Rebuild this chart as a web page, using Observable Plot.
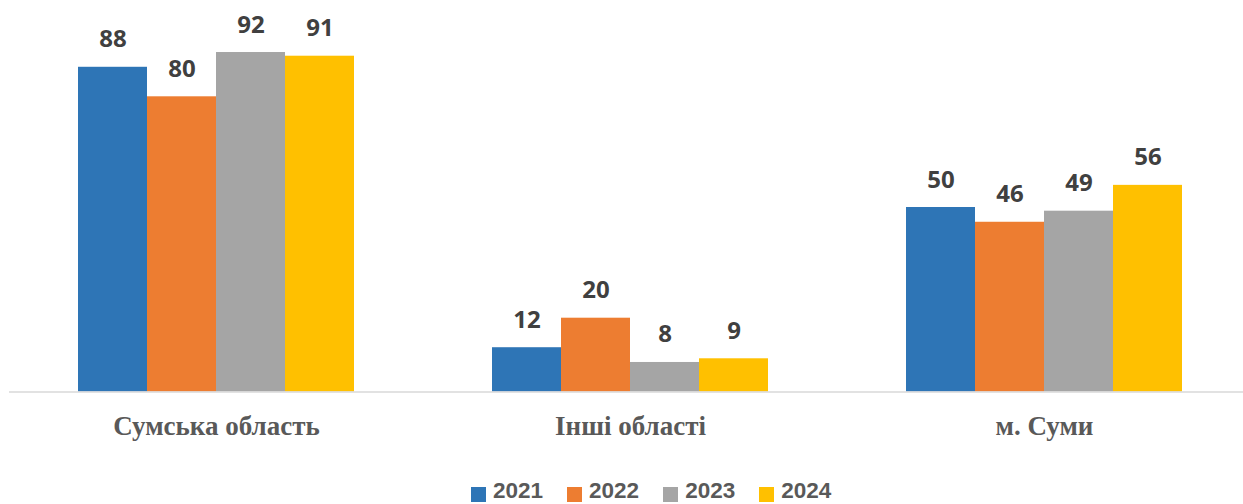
<!DOCTYPE html>
<html>
<head>
<meta charset="utf-8">
<script src="https://cdn.jsdelivr.net/npm/d3@7"></script>
<script src="https://cdn.jsdelivr.net/npm/@observablehq/plot@0.6"></script>
<style>
  html, body { margin: 0; padding: 0; background: #fff; overflow: hidden; width: 1243px; height: 504px; }
  #chart { position: absolute; left: 0; top: 0; width: 1252px; }
  #chart svg { max-width: none !important; }
  #chart svg g[aria-label="fx-axis tick label"] text { font-family: "Liberation Serif", "Times New Roman", serif; font-weight: 700; }
  #legend { position: absolute; left: 471px; top: 481px; height: 22px; display: flex; align-items: flex-start;
            font-family: "Liberation Sans", Arial, sans-serif; font-weight: 700; font-size: 22.5px; color: #595959; }
  .item { display: flex; align-items: flex-start; margin-right: 24px; height: 22px; }
  .sw { width: 15px; height: 15px; margin-right: 7px; margin-top: 5.5px; }
  .lbl { display: block; height: 20px; line-height: 20px; overflow: visible; }
</style>
</head>
<body>
<div id="chart"></div>
<div id="legend"></div>
<script>
const categories = ["Сумська область", "Інші області", "м. Суми"];
const years = ["2021", "2022", "2023", "2024"];
const values2021 = [88, 12, 50];
const values2022 = [80, 20, 46];
const values2023 = [92, 8, 49];
const values2024 = [91, 9, 56];
const colors = ["#2E75B6", "#ED7D31", "#A5A5A5", "#FFC000"];

const series = [values2021, values2022, values2023, values2024];
const data = [];
categories.forEach((c, i) => years.forEach((y, j) => data.push({cat: c, year: y, value: series[j][i]})));

const chart = Plot.plot({
  width: 1252,
  height: 460,
  marginLeft: 9,
  marginRight: 0.5,
  marginTop: 22.5,
  marginBottom: 68.5,
  style: {background: "transparent", maxWidth: "none"},
  fx: {domain: categories, padding: 0, label: null},
  x: {domain: years, paddingInner: 0, paddingOuter: 0.994, axis: null},
  y: {domain: [0, 100], axis: null},
  color: {domain: years, range: colors},
  marks: [
    Plot.barY(data, {fx: "cat", x: "year", y: "value", fill: "year"}),
    Plot.ruleY([0], {stroke: "#d9d9d9", strokeWidth: 1.5}),
    Plot.text(data, {fx: "cat", x: "year", y: "value", text: d => String(d.value), dy: -20, lineAnchor: "bottom",
      fontSize: 24, fontWeight: 700, fill: "#404040", fontFamily: "Open Sans"}),
    Plot.axisFx({anchor: "bottom", tickSize: 0, tickPadding: 24, fontSize: 27, fill: "#595959", label: null})
  ]
});
document.getElementById("chart").appendChild(chart);

const legend = document.getElementById("legend");
years.forEach((y, i) => {
  const item = document.createElement("div");
  item.className = "item";
  const sw = document.createElement("div");
  sw.className = "sw";
  sw.style.background = colors[i];
  const t = document.createElement("span");
  t.className = "lbl";
  t.textContent = y;
  item.appendChild(sw);
  item.appendChild(t);
  legend.appendChild(item);
});
</script>
</body>
</html>
